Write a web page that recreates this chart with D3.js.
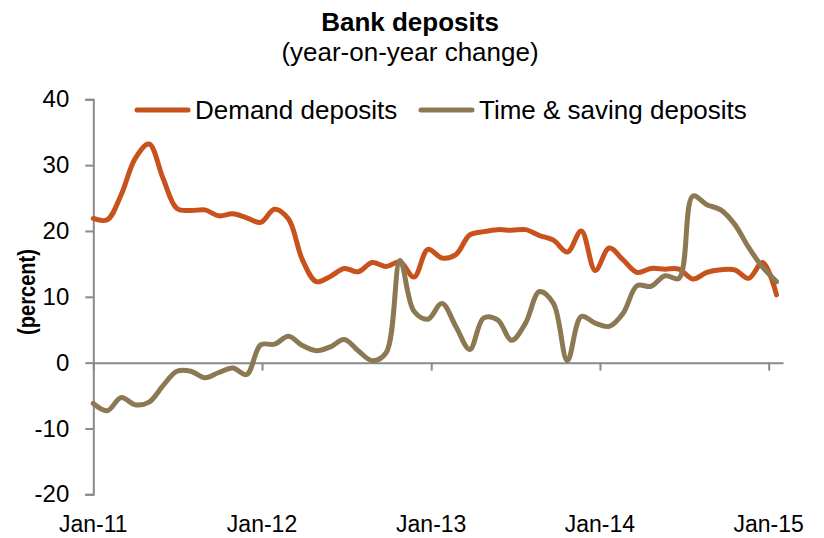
<!DOCTYPE html>
<html>
<head>
<meta charset="utf-8">
<script src="https://cdn.jsdelivr.net/npm/d3@7"></script>
<style>
  body { margin: 0; background: #fff; }
  text { font-family: "Liberation Sans", Arial, sans-serif; fill: #000; }
</style>
</head>
<body>
<div id="chart"></div>
<script>
// series, evenly spaced observations from Jan-11 to mid Jan-15
var demand = [21.9, 21.7, 25.5, 31.0, 33.2, 28.0, 23.4, 23.1, 23.2, 22.3,
  22.6, 22.0, 21.3, 23.3, 21.8, 15.6, 12.3, 13.1, 14.3, 13.8,
  15.2, 14.6, 15.3, 13.0, 17.2, 15.9, 16.4, 19.4, 19.9, 20.2,
  20.1, 20.2, 19.3, 18.6, 16.8, 20.0, 14.0, 17.4, 15.6, 13.7,
  14.3, 14.2, 14.2, 12.7, 13.7, 14.1, 14.1, 12.8, 15.2, 10.3];
var timeSaving = [-6.2, -7.3, -5.3, -6.4, -6.0, -3.5, -1.3, -1.3, -2.3, -1.5,
  -0.8, -1.8, 2.7, 2.8, 4.0, 2.6, 1.8, 2.4, 3.5, 1.8,
  0.3, 1.5, 15.5, 7.8, 6.6, 9.0, 5.5, 2.0, 6.8, 6.5,
  3.4, 6.0, 10.8, 9.0, 0.3, 7.0, 6.0, 5.5, 7.5, 11.7,
  11.6, 13.2, 12.8, 25.3, 24.0, 23.2, 21.0, 17.5, 14.5, 12.3];
var seriesNames = ["Demand deposits", "Time & saving deposits"];
var seriesColors = ["#c8521b", "#8c7853"];
var yTicks = [-20, -10, 0, 10, 20, 30, 40];
var xTickDates = [new Date(2011, 0, 1), new Date(2012, 0, 1), new Date(2013, 0, 1),
  new Date(2014, 0, 1), new Date(2015, 0, 1)];

var width = 824, height = 538;

var svg = d3.select("#chart")
  .append("svg")
  .attr("width", width)
  .attr("height", height);

// scales
var x = d3.scaleTime()
  .domain([new Date(2011, 0, 1), new Date(2015, 1, 1)])
  .range([93.3, 783]);
var xIdx = d3.scaleLinear()
  .domain([0, demand.length - 1])
  .range([x(new Date(2011, 0, 1)), x(new Date(2015, 0, 18))]);
var y = d3.scaleLinear().domain([-20, 40]).range([494.3, 99.3]);

// title
svg.append("text")
  .attr("x", 410).attr("y", 31)
  .attr("text-anchor", "middle")
  .style("font-size", "26px").style("font-weight", "bold")
  .text("Bank deposits");
svg.append("text")
  .attr("x", 410).attr("y", 61)
  .attr("text-anchor", "middle")
  .style("font-size", "26px")
  .text("(year-on-year change)");

// y axis
var yAxis = svg.append("g")
  .attr("transform", "translate(" + x.range()[0] + ",0)")
  .call(d3.axisLeft(y).tickValues(yTicks).tickSize(8).tickPadding(16).tickSizeOuter(8)
    .tickFormat(function (d) { return String(d); }));
yAxis.select(".domain").attr("stroke", "#8a8a8a").attr("stroke-width", 2);
yAxis.selectAll(".tick line").attr("stroke", "#8a8a8a").attr("stroke-width", 2);
yAxis.selectAll(".tick text")
  .style("font-size", "24px")
  .style("font-family", "'Liberation Sans', Arial, sans-serif")
  .attr("fill", "#000");

// x axis at zero
var xAxis = svg.append("g")
  .attr("transform", "translate(0," + y(0) + ")")
  .call(d3.axisBottom(x).tickValues(xTickDates).tickSize(8).tickSizeOuter(0).tickFormat(""));
xAxis.select(".domain").attr("stroke", "#8a8a8a").attr("stroke-width", 2);
xAxis.selectAll(".tick line").attr("stroke", "#8a8a8a").attr("stroke-width", 2);

// x labels at bottom
svg.selectAll(".xlab")
  .data(xTickDates)
  .enter()
  .append("text")
  .attr("class", "xlab")
  .attr("x", function (d) { return x(d); })
  .attr("y", 532)
  .attr("text-anchor", "middle")
  .style("font-size", "23px")
  .text(d3.timeFormat("%b-%y"));

// y label (narrow bold)
svg.append("text")
  .attr("transform", "translate(35,292) rotate(-90)")
  .attr("text-anchor", "middle")
  .attr("textLength", 86)
  .attr("lengthAdjust", "spacingAndGlyphs")
  .style("font-size", "23px").style("font-weight", "bold")
  .text("(percent)");

// lines
var line = d3.line()
  .x(function (d, i) { return xIdx(i); })
  .y(function (d) { return y(d); })
  .curve(d3.curveCatmullRom.alpha(0.5));

[demand, timeSaving].forEach(function (s, k) {
  svg.append("path")
    .datum(s)
    .attr("fill", "none")
    .attr("stroke", seriesColors[k])
    .attr("stroke-width", 5)
    .attr("stroke-linejoin", "round")
    .attr("stroke-linecap", "round")
    .attr("d", line);
});

// legend
var legendX = [137, 421];
seriesNames.forEach(function (name, k) {
  svg.append("line")
    .attr("x1", legendX[k]).attr("x2", legendX[k] + 51)
    .attr("y1", 110).attr("y2", 110)
    .attr("stroke", seriesColors[k])
    .attr("stroke-width", 5)
    .attr("stroke-linecap", "round");
  svg.append("text")
    .attr("x", legendX[k] + 58).attr("y", 119)
    .style("font-size", "26px")
    .text(name);
});
</script>
</body>
</html>
